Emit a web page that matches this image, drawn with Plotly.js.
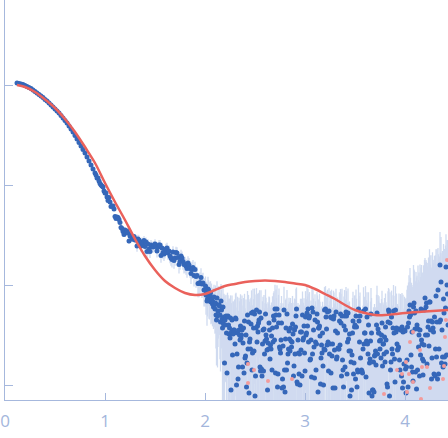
<!DOCTYPE html>
<html>
<head>
<meta charset="utf-8">
<script src="https://cdn.plot.ly/plotly-3.0.1.min.js"></script>
<style>html,body{margin:0;padding:0;background:#fff;}#chart{width:448px;height:438px;}</style>
</head>
<body>
<div id="chart"></div>
<script>
// ---- data: q, log10(intensity), error (in units of 1e-4) ----
const qLow = [0.12,0.14,0.16,0.18,0.20,0.22,0.24,0.26,0.28,0.30,
  0.32,0.34,0.36,0.38,0.40,0.42,0.44,0.46,0.48,0.50,
  0.52,0.54,0.56,0.58,0.60,0.62,0.64,0.66,0.68,0.70,
  0.72,0.74,0.76,0.78,0.80,0.82,0.84,0.86,0.88,0.90,
  0.91,0.92,0.93,0.94,0.95,0.96,0.97,0.98,0.99,1.00,
  1.01,1.02,1.03,1.04,1.05,1.06,1.07,1.08,1.09,1.10,
  1.11,1.12,1.13,1.14,1.15,1.16,1.17,1.18,1.19,1.20,
  1.21,1.22,1.23,1.24,1.25,1.26,1.27,1.28,1.29,1.30,
  1.31,1.32,1.33,1.34,1.35,1.36,1.37,1.38,1.39,1.40,
  1.41,1.42,1.43,1.44,1.45,1.46,1.47,1.48,1.49,1.50,
  1.51,1.52,1.53,1.54,1.55,1.56,1.57,1.58,1.59,1.60,
  1.61,1.62,1.63,1.64,1.65,1.66,1.67,1.68,1.69,1.70,
  1.71,1.72,1.73,1.74,1.75,1.76,1.77,1.78,1.79,1.80,
  1.81,1.82,1.83,1.84,1.85,1.86,1.87,1.88,1.89,1.90,
  1.91,1.92,1.93,1.94,1.95,1.96,1.97,1.98,1.99,2.00];
const logILow = [0.02,0.015,0.01,0.005,-0.005,-0.015,-0.025,-0.035,-0.05,-0.065,
  -0.08,-0.095,-0.11,-0.125,-0.145,-0.16,-0.18,-0.20,-0.22,-0.24,
  -0.26,-0.28,-0.305,-0.33,-0.355,-0.38,-0.41,-0.44,-0.47,-0.505,
  -0.54,-0.575,-0.61,-0.645,-0.68,-0.72,-0.76,-0.80,-0.84,-0.88,
  -0.90,-0.93,-0.93,-0.96,-0.985,-1.00,-1.01,-1.02,-1.06,-1.08,
  -1.08,-1.12,-1.155,-1.125,-1.17,-1.215,-1.21,-1.21,-1.24,-1.315,
  -1.335,-1.32,-1.325,-1.345,-1.375,-1.425,-1.435,-1.465,-1.495,-1.45,
  -1.477,-1.46,-1.48,-1.56,-1.51,-1.50,-1.54,-1.54,-1.515,-1.55,
  -1.54,-1.61,-1.54,-1.55,-1.58,-1.61,-1.57,-1.58,-1.555,-1.615,
  -1.57,-1.665,-1.59,-1.64,-1.665,-1.60,-1.615,-1.62,-1.61,-1.59,
  -1.615,-1.66,-1.62,-1.60,-1.60,-1.705,-1.63,-1.675,-1.69,-1.67,
  -1.64,-1.63,-1.68,-1.66,-1.71,-1.73,-1.745,-1.67,-1.755,-1.73,
  -1.675,-1.68,-1.725,-1.795,-1.765,-1.71,-1.73,-1.765,-1.795,-1.79,
  -1.81,-1.835,-1.78,-1.80,-1.835,-1.885,-1.845,-1.825,-1.905,-1.845,
  -1.915,-1.905,-1.985,-1.985,-1.975,-1.925,-1.99,-1.98,-2.05,-2.05];
const errLow = [80,80,80,80,80,80,80,80,80,80,
  60,60,60,60,60,60,60,60,60,60,
  40,40,40,40,40,40,40,40,40,40,
  30,30,30,30,30,30,30,30,30,30,
  20,20,20,20,20,20,20,20,20,20,
  20,20,20,20,20,20,20,20,20,20,
  18,18,18,18,18,18,18,18,18,18,
  18,18,18,18,18,18,18,18,18,18,
  30,30,30,30,30,30,30,30,30,30,
  30,30,30,30,30,30,30,30,30,30,
  30,30,30,30,30,30,30,30,30,30,
  30,30,30,30,30,30,30,30,30,30,
  30,30,30,30,30,30,30,30,30,30,
  28,28,28,28,28,28,28,28,28,28,
  28,28,28,28,28,28,28,28,28,28];

const qHigh = [2.005,2.01,2.015,2.02,2.025,2.03,2.035,2.04,2.045,2.05,2.055,2.06,2.065,2.07,2.075,2.08,2.085,2.09,2.095,2.10,
  2.105,2.11,2.115,2.12,2.125,2.13,2.135,2.14,2.145,2.15,2.155,2.16,2.165,2.17,2.175,2.18,2.185,2.19,2.195,2.20,
  2.205,2.21,2.215,2.22,2.225,2.23,2.235,2.24,2.245,2.25,2.255,2.26,2.265,2.27,2.275,2.28,2.285,2.29,2.295,2.30,
  2.305,2.31,2.315,2.32,2.325,2.33,2.335,2.34,2.345,2.35,2.355,2.36,2.365,2.37,2.375,2.38,2.385,2.39,2.395,2.40,
  2.405,2.41,2.415,2.42,2.425,2.43,2.435,2.44,2.445,2.45,2.455,2.46,2.465,2.47,2.475,2.48,2.485,2.49,2.495,2.50,
  2.505,2.51,2.515,2.52,2.525,2.53,2.535,2.54,2.545,2.55,2.555,2.56,2.565,2.57,2.575,2.58,2.585,2.59,2.595,2.60,
  2.605,2.61,2.615,2.62,2.625,2.63,2.635,2.64,2.645,2.65,2.655,2.66,2.665,2.67,2.675,2.68,2.685,2.69,2.695,2.70,
  2.705,2.71,2.715,2.72,2.725,2.73,2.735,2.74,2.745,2.75,2.755,2.76,2.765,2.77,2.775,2.78,2.785,2.79,2.795,2.80,
  2.805,2.81,2.815,2.82,2.825,2.83,2.835,2.84,2.845,2.85,2.855,2.86,2.865,2.87,2.875,2.88,2.885,2.89,2.895,2.90,
  2.905,2.91,2.915,2.92,2.925,2.93,2.935,2.94,2.945,2.95,2.955,2.96,2.965,2.97,2.975,2.98,2.985,2.99,2.995,3.00,
  3.005,3.01,3.015,3.02,3.025,3.03,3.035,3.04,3.045,3.05,3.055,3.06,3.065,3.07,3.075,3.08,3.085,3.09,3.095,3.10,
  3.105,3.11,3.115,3.12,3.125,3.13,3.135,3.14,3.145,3.15,3.155,3.16,3.165,3.17,3.175,3.18,3.185,3.19,3.195,3.20,
  3.205,3.21,3.215,3.22,3.225,3.23,3.235,3.24,3.245,3.25,3.255,3.26,3.265,3.27,3.275,3.28,3.285,3.29,3.295,3.30,
  3.305,3.31,3.315,3.32,3.325,3.33,3.335,3.34,3.345,3.35,3.355,3.36,3.365,3.37,3.375,3.38,3.385,3.39,3.395,3.40,
  3.405,3.41,3.415,3.42,3.425,3.43,3.435,3.44,3.445,3.45,3.455,3.46,3.465,3.47,3.475,3.48,3.485,3.49,3.495,3.50,
  3.505,3.51,3.515,3.52,3.525,3.53,3.535,3.54,3.545,3.55,3.555,3.56,3.565,3.57,3.575,3.58,3.585,3.59,3.595,3.60,
  3.605,3.61,3.615,3.62,3.625,3.63,3.635,3.64,3.645,3.65,3.655,3.66,3.665,3.67,3.675,3.68,3.685,3.69,3.695,3.70,
  3.705,3.71,3.715,3.72,3.725,3.73,3.735,3.74,3.745,3.75,3.755,3.76,3.765,3.77,3.775,3.78,3.785,3.79,3.795,3.80,
  3.805,3.81,3.815,3.82,3.825,3.83,3.835,3.84,3.845,3.85,3.855,3.86,3.865,3.87,3.875,3.88,3.885,3.89,3.895,3.90,
  3.905,3.91,3.915,3.92,3.925,3.93,3.935,3.94,3.945,3.95,3.955,3.96,3.965,3.97,3.975,3.98,3.985,3.99,3.995,4.00,
  4.005,4.01,4.015,4.02,4.025,4.03,4.035,4.04,4.045,4.05,4.055,4.06,4.065,4.07,4.075,4.08,4.085,4.09,4.095,4.10,
  4.105,4.11,4.115,4.12,4.125,4.13,4.135,4.14,4.145,4.15,4.155,4.16,4.165,4.17,4.175,4.18,4.185,4.19,4.195,4.20,
  4.205,4.21,4.215,4.22,4.225,4.23,4.235,4.24,4.245,4.25,4.255,4.26,4.265,4.27,4.275,4.28,4.285,4.29,4.295,4.30,
  4.305,4.31,4.315,4.32,4.325,4.33,4.335,4.34,4.345,4.35,4.355,4.36,4.365,4.37,4.375,4.38,4.385,4.39,4.395,4.40,
  4.405,4.41,4.415,4.42,4.425,4.43];
const logIHigh = [
  -2.01,-2.10,-2.08,-2.16,-2.14,-2.04,-2.05,-2.12,-2.16,-2.11,-2.08,-2.17,-2.14,-2.15,-2.19,-2.17,-2.22,-2.12,-2.19,-2.24,
  -2.18,-2.30,-2.35,-2.13,-2.31,-2.26,-2.20,-2.20,-2.21,-2.30,-2.37,-2.16,-2.25,-2.34,-2.43,-2.22,-2.39,-2.32,-2.78,-2.35,
  -2.40,-2.31,-2.48,-2.88,-2.32,-2.31,-2.40,-2.49,-2.43,-2.53,-2.33,-3.05,-2.47,-2.35,-2.70,-2.49,-2.45,-2.48,-2.45,-2.59,
  -2.33,-2.34,-3.00,-2.69,-2.48,-2.94,-2.82,-2.45,-2.50,-2.55,-2.41,-2.53,-2.50,-2.45,-2.82,-2.58,-2.43,-2.88,-2.36,-2.73,-2.71,-2.50,-3.02,-2.78,-2.30,
  -2.64,-2.37,-3.08,-2.57,-2.54,-2.64,-2.39,-2.28,-2.85,-2.68,-2.27,-2.43,-2.66,-2.29,-3.11,-2.91,-2.43,-2.25,-2.57,-2.41,-2.47,-2.38,-2.35,-2.27,-2.82,
  -2.86,-2.33,-2.84,-2.91,-2.59,-2.45,-2.86,-2.44,-2.69,-2.56,-2.29,-2.50,-2.54,-2.65,-3.05,-2.58,-2.64,-2.38,-2.45,-2.74,-2.60,-2.64,-2.51,-2.85,-2.43,
  -2.57,-2.31,-2.35,-2.55,-2.24,-2.88,-2.30,-2.42,-2.24,-3.02,-2.89,-2.38,-2.30,-2.62,-2.64,-2.68,-2.55,-2.38,-3.03,-2.94,-2.61,-3.02,-2.25,-2.85,-3.07,
  -2.54,-2.43,-2.85,-2.29,-2.78,-2.69,-2.64,-2.46,-2.54,-2.66,-2.43,-2.56,-2.62,-2.57,-2.39,-2.49,-2.91,-2.81,-2.45,-2.69,-2.42,-2.31,-2.24,-2.97,-2.99,
  -2.55,-2.68,-2.89,-2.69,-3.00,-2.47,-2.65,-2.47,-2.91,-2.30,-2.55,-2.53,-2.41,-2.68,-2.86,-2.32,-2.50,-2.48,-2.28,-2.41,-2.24,-2.57,-2.33,-2.31,-2.75,
  -2.74,-2.55,-2.92,-2.23,-2.69,-2.27,-2.45,-2.62,-2.93,-2.35,-2.57,-2.85,-2.59,-2.29,-2.37,-3.07,-2.43,-2.43,-2.41,-2.51,-2.99,-2.73,-2.60,-2.68,-2.48,
  -2.81,-3.00,-2.64,-2.25,-2.65,-2.24,-2.32,-2.44,-2.60,-2.27,-2.57,-2.86,-2.26,-2.69,-2.59,-2.32,-2.88,-2.33,-2.71,-2.59,-3.03,-2.34,-2.31,-2.65,-3.03,
  -2.46,-2.27,-2.74,-2.72,-2.48,-2.63,-2.64,-2.64,-2.36,-2.60,-2.29,-2.38,-2.91,-2.31,-2.75,-2.85,-3.02,-2.41,-2.31,-2.82,-2.45,-2.27,-2.31,-2.89,-2.57,
  -2.28,-2.54,-2.66,-2.49,-3.11,-2.66,-2.77,-3.05,-2.70,-2.48,-2.36,-2.89,-2.78,-2.42,-2.40,-2.94,-2.31,-2.42,-3.02,-2.85,-2.87,-2.24,-2.36,-2.57,-2.31,
  -2.73,-2.86,-2.85,-2.86,-2.88,-2.64,-2.26,-2.59,-2.48,-2.48,-2.24,-2.92,-2.56,-2.32,-2.59,-2.69,-2.40,-3.08,-2.78,-2.74,-2.56,-2.29,-2.48,-3.11,-3.05,
  -3.05,-2.77,-3.07,-2.71,-2.70,-2.66,-2.80,-2.40,-2.28,-2.69,-2.44,-2.48,-2.48,-2.56,-2.64,-2.55,-2.73,-2.50,-2.38,-2.81,-2.59,-2.59,-2.69,-2.52,-2.77,
  -2.42,-2.55,-2.67,-2.99,-3.02,-2.37,-2.25,-2.27,-3.11,-2.38,-2.85,-2.77,-2.32,-2.64,-2.69,-2.43,-2.26,-2.48,-2.74,-2.97,-2.25,-2.47,-2.43,-2.59,-2.65,
  -2.64,-2.62,-2.44,-2.75,-2.85,-2.45,-2.45,-2.91,-2.42,-3.03,-2.47,-2.97,-2.79,-2.45,-2.46,
  -2.84,-3.08,-2.82,-2.75,-2.42,-3.02,-2.38,-2.26,-2.32,-2.20,-2.30,-2.70,-2.82,-2.47,-2.87,-2.96,-2.22,-2.18,-2.28,-2.44,
  -2.87,-2.26,-3.04,-2.40,-2.85,-2.44,-2.62,-2.50,-2.91,-2.45,-2.70,-2.24,-2.55,-2.59,-2.74,-2.90,-2.76,-2.60,-2.25,-2.13,
  -2.50,-2.22,-2.18,-2.79,-2.50,-2.42,-2.36,-2.61,-2.17,-2.17,-2.45,-2.36,-2.94,-2.73,-2.37,-2.43,-2.47,-2.89,-2.32,-2.91,
  -2.64,-2.11,-2.72,-2.37,-2.94,-2.05,-2.89,-2.64,-2.37,-1.80,-2.35,-1.97,-2.78,-2.45,-2.72,-2.82,-2.14,-2.28,-2.72,-2.79,
  -2.23,-1.82,-2.70,-2.00,-2.09,-2.40];
const errHigh = [
  24,29,23,30,24,30,23,30,24,30,26,27,31,22,26,27,24,25,27,25,
  33,27,29,35,34,31,34,28,30,32,29,33,33,29,31,36,34,34,32,34,
  29,31,34,27,36,30,33,36,36,36,32,36,32,34,31,36,33,33,36,33,
  35,38,35,39,43,36,40,39,37,39, 42,43,41,43,37,36,37,42,38,40,
  36,40,38,37,37,42,37,36,41,43, 39,34,36,42,42,38,35,43,41,35,
  40,43,37,43,43,37,41,39,35,34, 39,42,36,34,43,41,38,43,38,38,
  39,43,36,37,34,41,42,35,40,38, 34,40,36,42,40,36,34,42,43,43,
  42,40,36,42,34,37,38,42,36,39, 37,38,36,35,35,41,34,40,41,43,
  42,36,35,38,42,34,42,40,39,35, 37,36,42,36,37,34,40,40,38,41,
  34,43,37,42,38,38,40,34,43,39, 39,34,39,42,36,36,37,35,41,36,
  39,37,39,43,38,34,42,35,36,42, 38,42,35,35,35,41,38,39,34,36,
  42,38,35,34,36,41,34,35,43,37, 42,39,36,35,35,34,39,39,39,43,
  40,38,38,40,36,36,43,38,42,43, 39,38,43,37,34,37,42,35,43,40,
  38,38,36,42,42,35,34,43,41,39, 40,40,39,43,37,37,38,38,40,35,
  36,42,38,41,39,40,38,42,36,37, 37,41,42,40,41,42,37,35,40,39,
  36,41,35,36,34,35,43,34,43,35, 38,39,40,38,42,39,40,40,43,36,
  40,41,43,37,40,41,45,43,38,37, 41,42,41,40,39,43,43,41,45,39,
  38,40,40,46,40,43,37,44,39,43, 37,39,41,46,38,41,38,39,44,40,
  44,39,41,42,45,44,37,37,43,43, 37,43,40,38,42,42,45,45,38,44,
  41,45,45,38,42,39,37,46,39,37, 46,43,39,45,39,46,39,42,41,37,
  58,66,55,72,61,80,64,70,59,85, 68,75,90,66,82,71,98,77,86,74,
  95,80,110,84,92,120,88,102,96,125, 100,92,130,105,115,98,140,108,122,112,
  135,118,105,150,122,128,145,115,160,130, 125,155,138,120,170,142,132,165,148,135,
  175,150,140,185,158,145,190,162,150,180, 165,195,155,172,200,160,185,168,210,175,
  190,170,215,180,200,185];

// points drawn in pink
const qPink = [2.43,2.49,2.43,2.63,2.87,4.08,4.05,4.15,4.01,4.17,4.22,3.92,3.97,4.04,4.08,4.25,4.02,3.79,4.16,4.41,4.40,4.39,4.38,4.42];
const logIPink = [-2.79,-2.85,-2.98,-2.96,-2.94,-2.47,-2.57,-2.65,-2.77,-2.82,-2.82,-2.85,-2.89,-2.89,-2.97,-3.03,-3.07,-3.09,-3.14,-2.35,-2.52,-2.81,-2.94,-1.75];

// model fit curve
const qFit = [0.12,0.20,0.30,0.40,0.50,0.60,0.70,0.80,0.90,1.00,1.10,1.20,1.30,1.40,1.50,1.60,1.70,1.80,1.90,2.00,
  2.10,2.20,2.30,2.40,2.50,2.60,2.70,2.80,2.90,3.00,3.10,3.20,3.30,3.40,3.50,3.60,3.70,3.80,3.90,4.00,4.20,4.43];
const logIFit = [0.00,-0.02,-0.07,-0.145,-0.23,-0.34,-0.47,-0.62,-0.78,-0.98,-1.17,-1.35,-1.54,-1.71,-1.85,-1.96,-2.03,-2.08,-2.10,-2.09,
  -2.05,-2.01,-1.99,-1.97,-1.96,-1.955,-1.96,-1.97,-1.985,-2.00,-2.04,-2.09,-2.14,-2.20,-2.25,-2.28,-2.30,-2.30,-2.29,-2.28,-2.265,-2.25];

const xTickVals = [0,1,2,3,4];
const yTickVals = [0.001,0.01,0.1,1];

// ---- sanity checks ----
[[qLow,logILow,errLow,'low'],[qHigh,logIHigh,errHigh,'high'],[qPink,logIPink,logIPink,'pink'],[qFit,logIFit,logIFit,'fit']].forEach(function(s){
  if(s[0].length!==s[1].length||s[0].length!==s[2].length) throw new Error('length mismatch '+s[3]+': '+s[0].length+' '+s[1].length+' '+s[2].length);
});

// ---- build traces ----
const fromLog = a => a.map(v => Math.pow(10, v));
const q = qLow.concat(qHigh);
const I = fromLog(logILow.concat(logIHigh));
const err = errLow.concat(errHigh).map(v => v * 1e-4);

const axisColor = '#a6b8dd';
const traces = [
  {
    x: q, y: I, type: 'scatter', mode: 'markers',
    marker: {color: '#3567b9', size: 5},
    error_y: {type: 'data', array: err, visible: true, color: '#d0dbf0', thickness: 1.3, width: 0},
    hoverinfo: 'skip'
  },
  {
    x: qPink, y: fromLog(logIPink), type: 'scatter', mode: 'markers',
    marker: {color: '#f39b9b', size: 4}, hoverinfo: 'skip'
  },
  {
    x: qFit, y: fromLog(logIFit), type: 'scatter', mode: 'lines',
    line: {color: '#ea615b', width: 2.5, shape: 'spline', smoothing: 1}, hoverinfo: 'skip'
  }
];

const layout = {
  width: 448, height: 438,
  margin: {l: 5, r: 0, t: 0, b: 38, pad: 0},
  paper_bgcolor: '#ffffff', plot_bgcolor: '#ffffff',
  showlegend: false,
  xaxis: {
    range: [0, 4.43], showgrid: false, zeroline: false,
    showline: true, linecolor: axisColor, linewidth: 1,
    ticks: 'inside', ticklen: 7, tickcolor: axisColor, tickwidth: 1,
    ticklabelstandoff: 6,
    tickvals: xTickVals, ticktext: xTickVals.map(String),
    tickfont: {family: 'Open Sans, sans-serif', size: 17, color: '#a3b6dc'}
  },
  yaxis: {
    type: 'log', range: [-3.15, 0.85], showgrid: false, zeroline: false,
    showline: true, linecolor: axisColor, linewidth: 1,
    ticks: 'inside', ticklen: 8, tickcolor: axisColor, tickwidth: 1,
    tickvals: yTickVals, showticklabels: false
  }
};

Plotly.newPlot('chart', traces, layout, {displayModeBar: false, staticPlot: true});
</script>
</body>
</html>
